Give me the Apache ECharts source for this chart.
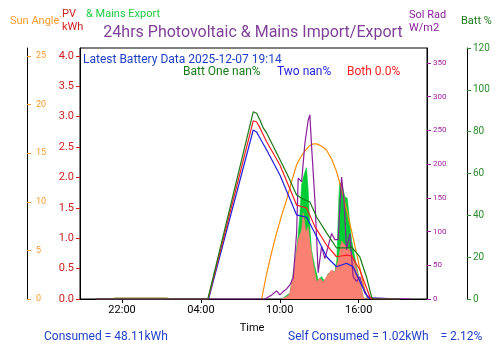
<!DOCTYPE html>
<html><head><meta charset="utf-8">
<script src="https://cdn.jsdelivr.net/npm/echarts@6/dist/echarts.min.js"></script>
<style>html,body{margin:0;padding:0;background:#fff}#c{width:500px;height:353px}</style>
</head><body><div id="c"></div>
<script>
// x values are hours since 00:00 of the first day (values > 24 belong to the next day)
const xTickHours = [22, 28, 34, 40];
const xTickLabels = ['22:00', '04:00', '10:00', '16:00'];

// Sun angle (degrees)
const sunTimes = [32.62, 33.0, 33.38, 33.76, 34.14, 34.52, 34.9, 35.28, 35.6, 35.91, 36.22, 36.52, 36.8, 37.05, 37.3, 37.56, 37.94, 38.32, 38.7, 39.08, 39.46, 39.84, 40.15, 40.47, 40.7];
const sunAngle = [0, 2.6, 4.8, 6.8, 8.6, 10.2, 12.1, 13.8, 14.6, 15.2, 15.7, 15.95, 15.95, 15.8, 15.6, 15.3, 14.4, 13.1, 11.3, 9.2, 7.0, 4.7, 2.8, 0.9, 0];

// Solar radiation W/m2
const radTimes = [20.0, 32.87, 33.38, 33.76, 34.01, 34.26, 34.52, 34.77, 35.02, 35.28, 35.40, 35.66, 35.91, 36.16, 36.29, 36.42, 36.67, 36.92, 37.18, 37.43, 37.68, 37.94, 38.19, 38.44, 38.70, 38.88, 39.08, 39.33, 39.58, 39.84, 40.09, 40.47, 40.85, 41.0, 43.9];
const solRad = [0, 0, 6, 12, 6, 11, 15, 21, 31, 98, 179, 174, 231, 265, 273, 226, 147, 39, 78, 60, 78, 97, 88, 88, 181, 147, 73, 97, 33, 26, 33, 8.5, 1.5, 0, 0];

// PV kWh (salmon fill)
const pvTimes = [34.16, 34.62, 34.77, 35.15, 35.40, 35.66, 35.78, 35.99, 36.16, 36.29, 36.54, 36.80, 37.05, 37.30, 37.56, 37.94, 38.19, 38.44, 38.70, 39.08, 39.46, 39.84, 40.09, 40.34, 40.47];
const pvKwh = [0, 0.05, 0.10, 0.59, 0.97, 1.14, 1.42, 1.10, 1.19, 0.92, 0.59, 0.28, 0.35, 0.28, 0.37, 0.48, 0.44, 0.63, 0.95, 0.86, 0.76, 0.48, 0.31, 0.04, 0];

// Mains export (green fill)
const expTimes = [34.16, 34.77, 35.15, 35.40, 35.53, 35.66, 35.78, 35.91, 36.03, 36.16, 36.29, 36.41, 36.67, 36.92, 37.18, 37.43, 37.68, 37.94, 38.19, 38.34, 38.49, 38.56, 38.77, 38.95, 39.13, 39.28, 39.46, 39.84, 40.09, 40.34, 40.47];
const exportKwh = [0, 0.10, 0.59, 1.05, 1.38, 1.88, 1.99, 2.09, 2.16, 1.79, 1.19, 0.81, 0.53, 0.31, 0.37, 0.28, 0.42, 0.42, 0.45, 0.64, 1.63, 1.91, 1.84, 1.68, 1.66, 1.35, 0.97, 0.53, 0.31, 0.04, 0];

// Mains import overnight (small)
const impTimes = [21.16, 21.5, 25.4, 25.72];
const importKwh = [0, 0.02, 0.02, 0];

// Battery % lines
const battOneTimes = [20.0, 28.53, 31.98, 32.24, 32.49, 32.74, 33.0, 33.76, 34.52, 35.28, 35.76, 36.29, 36.80, 37.56, 38.32, 39.08, 39.46, 40.09, 40.60, 40.98, 41.16, 43.13];
const battOne = [0, 0, 89.5, 88.8, 85.6, 81.8, 79.4, 69.8, 60.2, 49.7, 47.8, 46.4, 39.2, 31.6, 24.4, 24.4, 24.9, 20.1, 10.5, 1.0, 0, 0];
const battBothTimes = [20.0, 28.55, 31.98, 32.24, 32.49, 33.0, 34.01, 35.28, 36.04, 36.67, 37.56, 38.32, 39.08, 39.46, 40.09, 40.85, 41.0, 43.13];
const battBoth = [0, 0, 85.2, 84.6, 81.8, 75.2, 64.1, 44.9, 43.5, 34.6, 25.8, 20.2, 21.0, 20.6, 13.9, 1.1, 0, 0];
const battTwoTimes = [20.0, 28.58, 31.98, 32.24, 32.49, 33.0, 34.01, 35.28, 36.04, 36.67, 37.56, 38.32, 39.08, 39.58, 40.22, 40.72, 40.78, 43.13];
const battTwo = [0, 0, 80.8, 79.8, 77.0, 71.2, 59.3, 40.2, 39.1, 31.4, 20.2, 15.4, 17.1, 15.4, 6.7, 0.5, 0, 0];

const zip = (t, v) => t.map((x, i) => [x, v[i]]);
const FONT = 'Roboto';

const chart = echarts.init(document.getElementById('c'), null, {renderer: 'canvas'});

function areaSeries(name, t, v, color, yIdx, z, opacity) {
  return {name, type: 'line', yAxisIndex: yIdx, data: zip(t, v), symbol: 'none', z,
    lineStyle: {width: 0.6, color}, itemStyle: {color},
    areaStyle: {color, opacity: opacity || 1}, silent: true};
}
function lineSeries(name, t, v, color, yIdx, z, w) {
  return {name, type: 'line', yAxisIndex: yIdx, data: zip(t, v), symbol: 'none', z,
    lineStyle: {width: w || 1.2, color}, itemStyle: {color}, silent: true};
}

const txt = (x, y, text, fill, size, align) => ({type: 'text', style: {x, y, text, fill,
  font: `${size}px ${FONT}`, textAlign: align || 'left', textVerticalAlign: 'middle'}});

chart.setOption({
  animation: false,
  grid: {left: 80, top: 48, width: 347, height: 251, show: true, borderColor: '#000', borderWidth: 1},
  xAxis: {type: 'value', min: 18.8, max: 45.2,
    axisLine: {lineStyle: {color: '#000', width: 1}},
    axisTick: {customValues: xTickHours, length: 4, lineStyle: {color: '#000'}},
    axisLabel: {customValues: xTickHours, color: '#000', fontSize: 11, fontFamily: FONT, margin: 6,
      formatter: v => xTickLabels[xTickHours.indexOf(v)]},
    splitLine: {show: false}},
  yAxis: [
    {type: 'value', position: 'left', min: 0, max: 4.13, interval: 0.5,
      axisLine: {show: true, lineStyle: {color: '#000'}},
      axisTick: {show: true, length: 4, lineStyle: {color: '#cc2222'}},
      axisLabel: {color: '#cc2222', fontSize: 11, fontFamily: FONT, margin: 6, formatter: v => v.toFixed(1),
        showMaxLabel: false},
      splitLine: {show: false}},
    {type: 'value', position: 'left', offset: 53, min: 0, max: 25.81, interval: 5,
      axisLine: {show: true, onZero: false, lineStyle: {color: '#000'}},
      axisTick: {show: true, inside: true, length: 4, lineStyle: {color: '#ff9a2e'}},
      axisLabel: {inside: true, color: '#ff9a2e', fontSize: 9, fontFamily: FONT, margin: 9, showMaxLabel: false},
      splitLine: {show: false}},
    {type: 'value', position: 'right', min: 0, max: 372.2, interval: 50,
      axisLine: {show: true, lineStyle: {color: '#000'}},
      axisTick: {show: true, length: 4, lineStyle: {color: '#a020a0'}},
      axisLabel: {color: '#a020a0', fontSize: 8, fontFamily: FONT, margin: 6, showMaxLabel: false},
      splitLine: {show: false}},
    {type: 'value', position: 'right', offset: 40, min: 0, max: 120, interval: 20,
      axisLine: {show: true, lineStyle: {color: '#000'}},
      axisTick: {show: true, length: 4, lineStyle: {color: '#2e8b2e'}},
      axisLabel: {color: '#2e8b2e', fontSize: 10, fontFamily: FONT, margin: 6},
      splitLine: {show: false}}
  ],
  series: [
    areaSeries('Mains Export', expTimes, exportKwh, '#00cc33', 0, 1),
    areaSeries('PV', pvTimes, pvKwh, '#fa8072', 0, 2),
    areaSeries('Import', impTimes, importKwh, '#8b8b3a', 0, 2, 0.7),
    lineSeries('Sun Angle', sunTimes, sunAngle, '#ff8c00', 1, 3),
    lineSeries('Sol Rad', radTimes, solRad, '#8b1e9b', 2, 4),
    lineSeries('Batt Two', battTwoTimes, battTwo, '#1f1fe0', 3, 5),
    lineSeries('Batt Both', battBothTimes, battBoth, '#ff1f1f', 3, 6),
    lineSeries('Batt One', battOneTimes, battOne, '#1a7a1a', 3, 7)
  ],
  graphic: [
    txt(253, 33, '24hrs Photovoltaic & Mains Import/Export', '#7f3f98', 16, 'center'),
    txt(10, 21, 'Sun Angle', '#ff9a2e', 11),
    txt(59, 14, '.', '#ff9a2e', 11),
    txt(62, 14, 'PV', '#cc2222', 11),
    txt(62, 27, 'kWh', '#cc2222', 11),
    txt(86, 14, '& Mains Export', '#22cc44', 11),
    txt(409, 15, 'Sol Rad', '#8b1e9b', 11),
    txt(409, 28, 'W/m2', '#8b1e9b', 11),
    txt(461, 21, 'Batt %', '#1a7a1a', 11),
    txt(83, 60, 'Latest Battery Data 2025-12-07 19:14', '#1f3fc8', 12),
    txt(183, 72, 'Batt One nan%', '#1a7a1a', 12),
    txt(277, 72, 'Two nan%', '#1f1fe0', 12),
    txt(347, 72, 'Both 0.0%', '#ff1f1f', 12),
    txt(252, 328, 'Time', '#000', 11, 'center'),
    txt(44, 337, 'Consumed = 48.11kWh', '#1f3fc8', 12),
    txt(288, 337, 'Self Consumed = 1.02kWh    = 2.12%', '#1f3fc8', 12)
  ]
});
</script></body></html>
